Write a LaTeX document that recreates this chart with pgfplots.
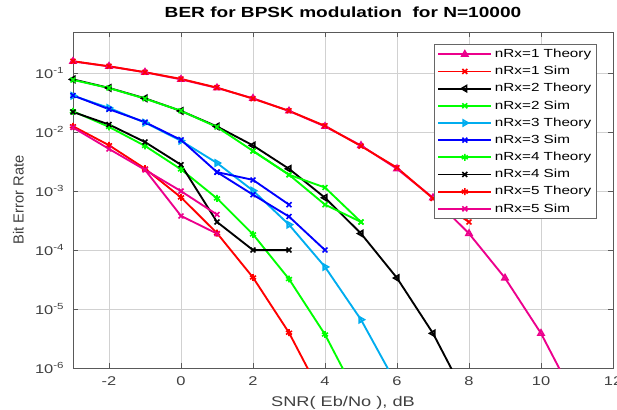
\documentclass[border=0pt]{standalone}
\usepackage{fontspec}
\setmainfont{Liberation Sans}[FakeStretch=1.3]
\newfontfamily\ylabfont{Liberation Sans}
\usepackage{pgfplots}
\pgfplotsset{compat=1.18}

% marker / line styles, MATLAB-like
\pgfplotsset{
  ber/.style={line width=1.4pt, mark size=2.6pt, mark options={solid, line width=1.2pt}},
}

\begin{document}
\begin{tikzpicture}
\begin{axis}[
  name=ax, scale only axis, width=405pt, height=252pt,
  xmin=-3, xmax=12, ymin=1e-6, ymax=0.5,
  ymode=log, log basis y=10,
  xtick={-2,0,...,12},
  ytick={1e-6,1e-5,1e-4,1e-3,1e-2,1e-1},
  yticklabel={10\textsuperscript{\pgfmathparse{int(round(\tick))}\pgfmathresult}},
  /pgf/number format/assume math mode=true,
  ticklabel style={font=\fontsize{9.5}{11}\selectfont, text=black!75},
  yticklabel style={xshift=-3pt},
  xticklabel style={yshift=-3pt},
  tick align=inside,
  major tick length=3.5pt, minor tick length=2pt,
  every tick/.style={black!65},
  axis line style={black!65},
  xmajorgrids, ymajorgrids, yminorgrids,
  major grid style={black!18, line width=0.5pt},
  minor grid style={black!35, densely dotted, line width=0.4pt},
  title={\bfseries BER for BPSK modulation\ \ for N=10000},
  every axis title/.style={at={(0.5,1)}, anchor=base, yshift=11pt, font=\fontsize{11}{13}\selectfont},
  xlabel={SNR( Eb/No ), dB},
  every axis x label/.style={at={(0.5,0)}, anchor=base, yshift=-29pt, font=\fontsize{10.5}{12}\selectfont, text=black!75},
  ylabel={Bit Error Rate},
  every axis y label/.style={at={([xshift=-41pt]axis description cs:0,0.5)}, anchor=center, rotate=90, font=\ylabfont\fontsize{11}{13}\selectfont, text=black!75},
  legend cell align=left,
  legend style={at={(0.97,0.964)}, anchor=north east, draw=black!60, fill=white,
    font=\fontsize{8.8}{10}\selectfont, inner xsep=2pt, inner ysep=1pt,
    nodes={inner ysep=2.5pt}},
  legend image code/.code={\draw[mark repeat=2,mark phase=2] plot coordinates {(0cm,0cm) (0.7cm,0cm) (1.4cm,0cm)};},
]
% nRx=1 theory
\addplot[ber, magenta, mark=triangle] coordinates {(-3,0.1584)(-2,0.1306)(-1,0.1038)(0,0.0786)(1,0.0563)(2,0.0375)(3,0.0229)(4,0.0125)(5,0.00595)(6,0.00239)(7,7.73e-4)(8,1.91e-4)(9,3.36e-5)(10,3.87e-6)(11,2.6e-7)};
\addlegendentry{nRx=1 Theory}
% nRx=1 sim
\addplot[ber, red, mark=x] coordinates {(-3,0.160)(-2,0.131)(-1,0.104)(0,0.080)(1,0.057)(2,0.037)(3,0.023)(4,0.0128)(5,0.0058)(6,0.0025)(7,7.5e-4)(8,3e-4)};
\addlegendentry{nRx=1 Sim}
% nRx=2 theory
\addplot[ber, black, mark=triangle, every mark/.append style={rotate=90}] coordinates {(-3,0.0786)(-2,0.0563)(-1,0.0375)(0,0.0229)(1,0.0125)(2,0.00595)(3,0.00239)(4,7.73e-4)(5,1.91e-4)(6,3.36e-5)(7,3.87e-6)(8,2.6e-7)};
\addlegendentry{nRx=2 Theory}
% nRx=2 sim
\addplot[ber, green, mark=x] coordinates {(-3,0.077)(-2,0.056)(-1,0.037)(0,0.023)(1,0.0122)(2,0.0048)(3,0.0019)(4,0.00115)(5,3e-4)};
\addlegendentry{nRx=2 Sim}
% nRx=3 theory
\addplot[ber, cyan, mark=triangle, every mark/.append style={rotate=-90}] coordinates {(-3,0.0415)(-2,0.0258)(-1,0.0145)(0,0.00715)(1,0.0030)(2,1.02e-3)(3,2.70e-4)(4,5.18e-5)(5,6.6e-6)(6,5.1e-7)};
\addlegendentry{nRx=3 Theory}
% nRx=3 sim
\addplot[ber, blue, mark=x] coordinates {(-3,0.042)(-2,0.0245)(-1,0.0148)(0,0.0074)(1,0.0021)(2,8.7e-4)(3,3.7e-4)(4,1e-4)};
\addlegendentry{nRx=3 Sim}
% nRx=4 theory
\addplot[ber, green, mark=asterisk] coordinates {(-3,0.0226)(-2,0.0123)(-1,0.00585)(0,0.00234)(1,7.53e-4)(2,1.85e-4)(3,3.23e-5)(4,3.7e-6)(5,2.5e-7)};
\addlegendentry{nRx=4 Theory}
% nRx=4 sim
\addplot[ber, black, mark=x] coordinates {(-3,0.022)(-2,0.0135)(-1,0.0068)(0,0.0028)(1,3e-4)(2,1e-4)(3,1e-4)};
\addlegendentry{nRx=4 Sim}
% nRx=5 theory
\addplot[ber, red, mark=asterisk] coordinates {(-3,0.0126)(-2,0.0060)(-1,0.00241)(0,7.83e-4)(1,1.94e-4)(2,3.43e-5)(3,3.97e-6)(4,2.7e-7)};
\addlegendentry{nRx=5 Theory}
% nRx=5 sim
\addplot[ber, magenta, mark=x] coordinates {(-3,0.012)(-2,0.0052)(-1,0.0023)(0,0.001)(1,4e-4)};
\addlegendentry{nRx=5 Sim}
% second simulation runs drawn in the reference without legend entries
\addplot[ber, green, mark=x, forget plot] coordinates {(2,0.0048)(3,0.0019)(4,5.9e-4)(5,3e-4)};
\addplot[ber, blue, mark=x, forget plot] coordinates {(1,0.0021)(2,0.00155)(3,5.9e-4)};
\addplot[ber, magenta, mark=x, forget plot] coordinates {(-1,0.0023)(0,3.8e-4)(1,1.9e-4)};
\end{axis}
\pgfresetboundingbox
\path ([shift={(-54.75pt,-31.5pt)}]ax.south west) rectangle ([shift={(3pt,24pt)}]ax.north east);
\end{tikzpicture}
\end{document}
